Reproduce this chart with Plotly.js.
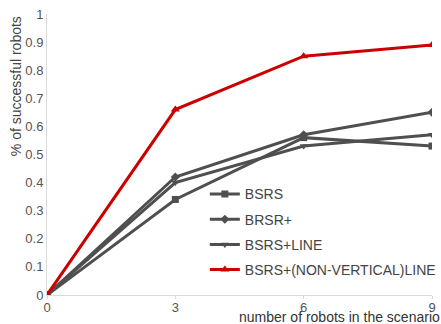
<!DOCTYPE html>
<html><head><meta charset="utf-8">
<script src="https://cdn.plot.ly/plotly-3.0.1.min.js"></script>
<style>html,body{margin:0;padding:0;background:#fff}#c{width:441px;height:324px}</style>
</head><body><div id="c"></div>
<script>
const robots = [0, 3, 6, 9];
const bsrs = [0, 0.34, 0.56, 0.53];
const brsrPlus = [0, 0.42, 0.57, 0.65];
const bsrsLine = [0, 0.40, 0.53, 0.57];
const bsrsNonVert = [0, 0.66, 0.85, 0.89];
const names = ['BSRS', 'BRSR+', 'BSRS+LINE', 'BSRS+(NON-VERTICAL)LINE'];
const yTicks = [0, 0.1, 0.2, 0.3, 0.4, 0.5, 0.6, 0.7, 0.8, 0.9, 1];
const yTickText = ['0', '0.1', '0.2', '0.3', '0.4', '0.5', '0.6', '0.7', '0.8', '0.9', '1'];

const gray = '#4f4f4f', red = '#cc0000';
function tr(y, name, sym, col, sz, grp) {
  return {x: robots, y: y, name: name, type: 'scatter', mode: 'lines+markers',
    legendgroup: grp,
    line: {color: col, width: 3}, marker: {symbol: sym, size: sz, color: col}};
}
const data = [
  tr(bsrs, names[0], 'square', gray, 7, 'a'),
  tr(brsrPlus, names[1], 'diamond', gray, 7, 'b'),
  tr(bsrsLine, names[2], 'triangle-down', gray, 7, 'c'),
  tr(bsrsNonVert, names[3], 'triangle-up', red, 8, 'd')
];
const layout = {
  width: 441, height: 324,
  margin: {l: 47, r: 9, t: 14, b: 29, autoexpand: false},
  paper_bgcolor: '#fff', plot_bgcolor: '#fff',
  font: {family: 'Liberation Sans, Arial, sans-serif', color: '#555', size: 13},
  showlegend: true,
  legend: {x: 0.41, y: 0.415, xanchor: 'left', yanchor: 'top', bgcolor: 'rgba(0,0,0,0)',
    font: {size: 14, color: '#444'}, tracegroupgap: 4, itemwidth: 30},
  xaxis: {range: [0, 9], tickvals: robots, ticktext: robots.map(String), showgrid: false,
    zeroline: false, showline: true, linecolor: '#d9d9d9', linewidth: 1, automargin: false,
    ticks: 'outside', ticklen: 3, tickcolor: '#d9d9d9', ticklabelstandoff: -3,
    tickfont: {size: 13, color: '#555'}},
  yaxis: {range: [0, 1], tickvals: yTicks, ticktext: yTickText, showgrid: false,
    zeroline: false, showline: true, linecolor: '#d9d9d9', linewidth: 1, automargin: false,
    ticks: '', tickfont: {size: 13, color: '#555'}},
  annotations: [
    {text: '% of successful robots', xref: 'paper', yref: 'paper', x: -0.08, y: 1.0,
      xanchor: 'center', yanchor: 'top', textangle: -90, showarrow: false,
      font: {size: 14, color: '#444'}},
    {text: 'number of robots in the scenario', xref: 'paper', yref: 'paper', x: 1.025, y: -0.043,
      xanchor: 'right', yanchor: 'top', showarrow: false, font: {size: 14, color: '#333'}}
  ]
};
Plotly.newPlot('c', data, layout, {staticPlot: true, displayModeBar: false});
</script></body></html>
